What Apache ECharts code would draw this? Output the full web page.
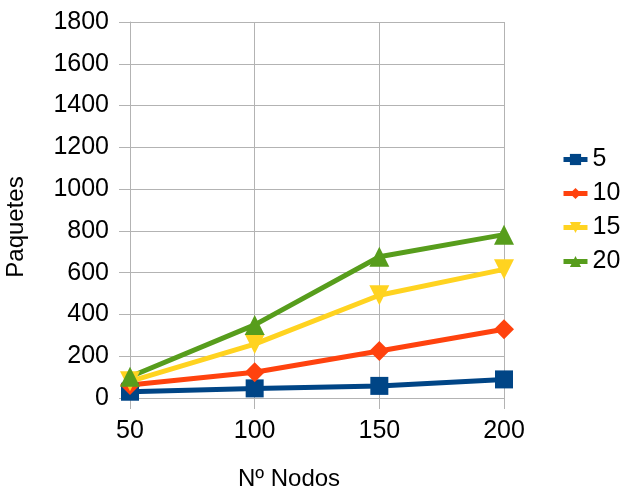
<!DOCTYPE html>
<html>
<head>
<meta charset="utf-8">
<script src="https://cdn.jsdelivr.net/npm/echarts@6/dist/echarts.min.js"></script>
<style>
  html, body { margin: 0; padding: 0; background: #fff; }
  #chart { width: 622px; height: 490px; }
</style>
</head>
<body>
<div id="chart"></div>
<script>
// Node counts on the x axis
const nodos = ['50', '100', '150', '200'];

// Packets per scenario
const serie5 = [30, 46, 58, 89];
const serie10 = [62, 123, 225, 329];
const serie15 = [80, 258, 492, 616];
const serie20 = [102, 350, 676, 782];

const seriesNames = ['5', '10', '15', '20'];

const FONT = '"Liberation Sans", Arial, sans-serif';
const GRID = '#b3b3b3';

const chart = echarts.init(document.getElementById('chart'), null, { renderer: 'canvas' });

function lineSeries(name, data, color, symbol, size, rotate) {
  return {
    name: name,
    type: 'line',
    data: data,
    symbol: symbol,
    symbolSize: size,
    symbolRotate: rotate || 0,
    lineStyle: { color: color, width: 5 },
    itemStyle: { color: color },
    emphasis: { disabled: true },
    z: 3
  };
}

chart.setOption({
  animation: false,
  backgroundColor: '#ffffff',
  grid: { left: 130, right: 118, top: 22, bottom: 92 },
  legend: {
    orient: 'vertical',
    left: 561,
    top: 147,
    padding: 0,
    itemWidth: 24,
    itemHeight: 14,
    itemGap: 9,
    data: seriesNames,
    lineStyle: { width: 5 },
    textStyle: { fontFamily: FONT, fontSize: 25, color: '#000' }
  },
  xAxis: {
    type: 'category',
    data: nodos,
    boundaryGap: false,
    axisLine: { lineStyle: { color: GRID, width: 1 } },
    axisTick: { show: true, length: 11, alignWithLabel: true, lineStyle: { color: GRID } },
    axisLabel: { fontFamily: FONT, fontSize: 25, color: '#000', margin: 21 },
    splitLine: { show: true, lineStyle: { color: GRID, width: 1 } }
  },
  yAxis: {
    type: 'value',
    min: 0,
    max: 1800,
    interval: 200,
    axisLine: { show: true, lineStyle: { color: GRID, width: 1 } },
    axisTick: { show: true, length: 11, lineStyle: { color: GRID } },
    axisLabel: {
      fontFamily: FONT, fontSize: 25, color: '#000', margin: 21,
      formatter: function (v) { return String(v); }
    },
    splitLine: { show: true, lineStyle: { color: GRID, width: 1 } }
  },
  graphic: [
    {
      type: 'text',
      x: 289, y: 479,
      style: {
        text: 'Nº Nodos',
        fontFamily: FONT, fontSize: 24, fill: '#000',
        textAlign: 'center', textVerticalAlign: 'middle'
      }
    },
    {
      type: 'text',
      rotation: Math.PI / 2,
      x: 16, y: 227,
      style: {
        text: 'Paquetes',
        fontFamily: FONT, fontSize: 24, fill: '#000',
        textAlign: 'center', textVerticalAlign: 'middle'
      }
    }
  ],
  series: [
    lineSeries('5', serie5, '#004586', 'rect', 18),
    lineSeries('10', serie10, '#ff420e', 'diamond', 20),
    lineSeries('15', serie15, '#ffd320', 'triangle', 20, 180),
    lineSeries('20', serie20, '#579d1c', 'triangle', 20)
  ]
});
</script>
</body>
</html>
